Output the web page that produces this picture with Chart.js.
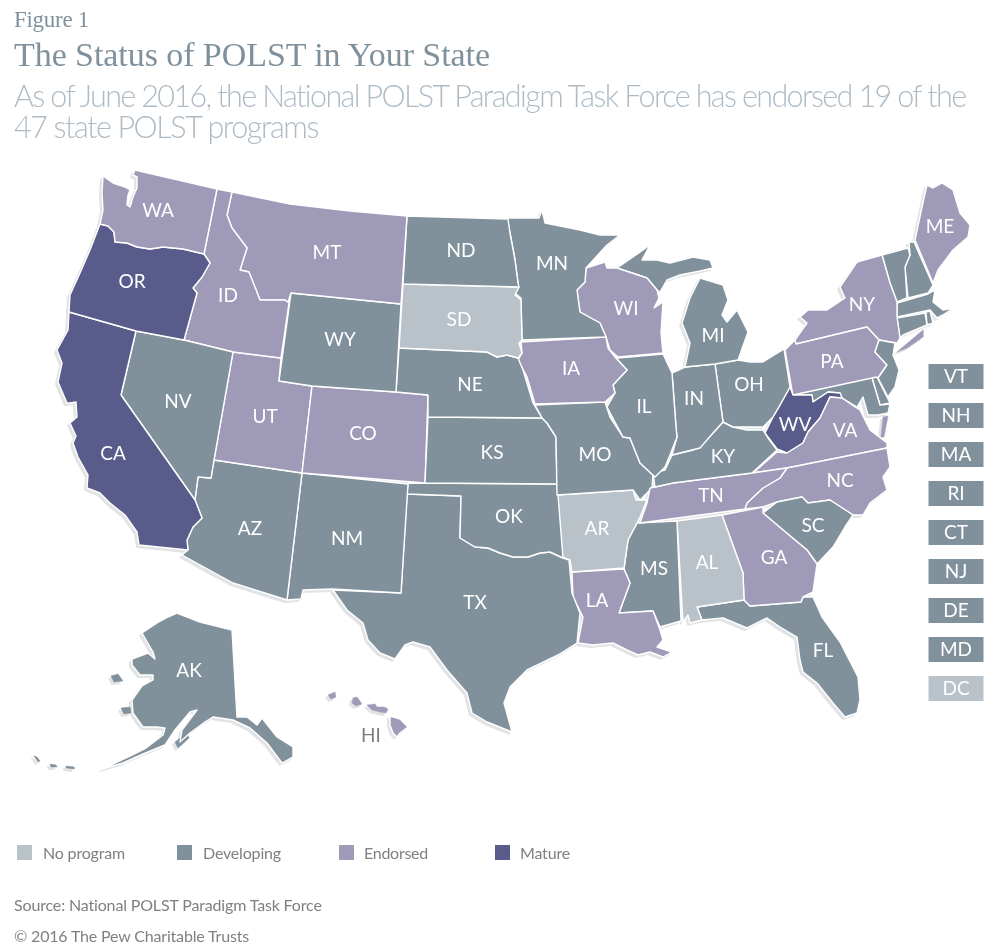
<!DOCTYPE html>
<html><head><meta charset="utf-8">
<style>
html,body{margin:0;padding:0;background:#fff;width:990px;height:952px;overflow:hidden}
#wrap{position:relative;width:990px;height:952px}
canvas{position:absolute;left:0;top:0}
.t{position:absolute;white-space:nowrap;line-height:1}
.sw{position:absolute;width:15px;height:15px}
</style>
<script src="https://cdn.jsdelivr.net/npm/chart.js@4"></script>
</head><body><div id="wrap"><canvas id="c" width="990" height="952"></canvas></div>
<script>
// ---------- categories ----------
const statusNames=["No program","Developing","Endorsed","Mature"];
const statusColors=["#b9c1c9","#80919c","#9f9ab8","#595b8a"];
// ---------- outlines (map plane units) ----------
const WA=[[103,176],[113,183],[125,187],[130,190],[128,195],[127,205],[130,207],[133,197],[137,188],[137,177],[133,175],[135,170],[217,189],[204,254],[183,249],[163,247],[150,249],[137,247],[127,243],[115,242],[114,232],[108,226],[100,224],[103,210],[102,193]];
const OR=[[100,224],[108,226],[114,232],[115,242],[127,243],[137,247],[150,249],[163,247],[183,249],[204,254],[210,263],[202,277],[193,288],[197,293],[184,340],[136,331],[69,312],[70,295],[80,273],[90,250]];
const CA=[[69,312],[136,331],[121,395],[195,500],[202,518],[193,527],[187,540],[188,550],[139,545],[137,532],[125,515],[110,503],[100,493],[87,488],[88,475],[78,457],[73,443],[76,436],[70,423],[77,417],[76,402],[70,403],[67,403],[58,382],[62,363],[57,350],[68,330]];
const NV=[[136,331],[184,340],[233,352],[214,460],[211,478],[198,477],[195,500],[121,395]];
const ID=[[217,189],[232,192],[227,215],[232,228],[247,248],[240,270],[249,272],[260,300],[285,300],[289,303],[281,358],[233,352],[184,340],[197,293],[193,288],[202,277],[210,263],[204,254]];
const MT=[[232,192],[290,204],[350,211],[407,216],[401,304],[291,293],[288,302],[285,300],[260,300],[249,272],[240,270],[247,248],[232,228],[227,215]];
const WY=[[291,293],[401,304],[396,392],[312,386],[279,381]];
const ND=[[407,216],[508,219],[510,233],[515,260],[518,283],[519,287],[403,284]];
const SD=[[403,284],[519,287],[515,295],[521,300],[522,340],[519,343],[522,353],[518,358],[507,355],[497,357],[487,352],[399,348]];
const NE=[[399,348],[487,352],[497,357],[507,355],[518,358],[523,370],[533,403],[542,418],[428,417],[428,395],[396,392]];
const MN=[[507,218],[539,218],[542,210],[545,223],[580,230],[600,235],[620,235],[607,245],[586,268],[585,282],[577,290],[580,312],[600,323],[606,337],[522,340],[521,298],[515,293],[518,283],[515,260],[510,233]];
const IA=[[521,342],[606,337],[608,348],[615,357],[627,370],[613,385],[615,393],[605,402],[535,404],[527,377],[518,360],[522,353]];
const WI=[[586,268],[605,262],[607,268],[617,268],[647,278],[657,290],[659,298],[654,308],[663,302],[661,333],[663,353],[618,357],[610,350],[606,337],[600,323],[580,312],[577,290],[585,282]];
const MIU=[[617,268],[633,257],[643,250],[650,245],[642,260],[657,260],[670,263],[693,257],[710,260],[713,268],[700,271],[680,275],[667,280],[660,292],[657,290],[647,278]];
const MIL=[[700,278],[723,285],[728,300],[722,315],[727,322],[737,310],[748,332],[738,360],[715,364],[685,367],[690,343],[682,323],[690,298]];
const IL=[[618,358],[663,354],[672,373],[676,427],[677,437],[670,455],[665,467],[655,477],[640,463],[630,438],[623,437],[607,407],[615,393],[613,385],[627,370],[615,357]];
const IN=[[672,373],[685,367],[715,364],[723,422],[713,433],[700,448],[672,455],[677,437],[676,427]];
const OH=[[715,364],[738,360],[750,362],[763,362],[784,349],[790,387],[780,405],[773,417],[763,427],[753,427],[733,427],[723,422]];
const KY=[[723,422],[733,427],[747,430],[763,430],[768,438],[777,450],[752,473],[673,483],[655,487],[653,473],[665,470],[672,455],[693,450],[713,433]];
const TN=[[650,488],[673,483],[752,473],[787,468],[780,478],[763,488],[747,503],[745,509],[640,523],[647,503]];
const MO=[[535,405],[605,402],[610,417],[623,437],[630,438],[640,463],[655,477],[653,473],[652,488],[640,500],[633,490],[557,495],[556,437],[547,423],[542,418]];
const KS=[[428,417],[542,418],[547,423],[556,437],[557,484],[425,483]];
const CO=[[312,386],[396,392],[428,395],[425,483],[302,473]];
const UT=[[233,352],[281,358],[279,381],[312,386],[302,473],[214,460]];
const AZ=[[214,460],[302,473],[287,600],[233,583],[182,555],[188,550],[187,540],[193,527],[202,518],[195,500],[198,477],[211,478]];
const NM=[[302,473],[408,484],[401,593],[333,589],[303,590],[301,599],[287,600]];
const OK=[[408,483],[557,484],[558,495],[563,558],[550,552],[540,553],[528,557],[513,557],[500,553],[488,548],[475,547],[460,538],[461,496],[407,494]];
const TX=[[407,494],[461,496],[460,538],[475,547],[488,548],[500,553],[513,557],[528,557],[540,553],[550,552],[563,558],[569,560],[572,593],[580,613],[577,643],[558,655],[527,670],[510,687],[504,703],[512,732],[487,722],[472,713],[467,693],[447,670],[430,647],[413,642],[405,645],[395,659],[380,653],[368,640],[363,623],[347,610],[333,590],[401,593]];
const AR=[[557,495],[633,490],[636,500],[647,500],[640,517],[637,523],[628,540],[624,568],[572,572],[570,560],[562,557]];
const LA=[[572,572],[624,569],[630,583],[619,613],[653,611],[660,630],[663,640],[657,647],[672,652],[663,657],[650,652],[638,655],[627,650],[613,643],[593,645],[578,643],[583,617],[573,597]];
const MS=[[637,523],[677,521],[681,621],[660,627],[653,611],[619,613],[630,583],[624,569],[628,540]];
const AL=[[677,521],[722,515],[743,573],[744,600],[697,607],[702,620],[690,623],[688,615],[683,622]];
const GA=[[722,515],[763,507],[763,513],[783,530],[807,550],[817,564],[813,592],[803,597],[801,602],[750,606],[744,600],[743,573]];
const SC=[[763,513],[777,502],[802,497],[808,503],[830,500],[853,515],[845,527],[833,547],[817,564],[807,550],[783,530]];
const FL=[[697,607],[744,600],[750,606],[801,602],[803,597],[813,597],[822,617],[840,642],[858,677],[860,700],[857,713],[845,717],[833,703],[817,683],[803,672],[800,660],[797,637],[780,627],[767,618],[747,628],[723,618],[702,620]];
const NC=[[745,509],[747,503],[763,488],[780,478],[787,468],[887,448],[890,467],[883,477],[887,490],[870,503],[863,515],[853,515],[830,500],[808,503],[802,497],[777,502],[763,507]];
const VA=[[753,473],[777,452],[787,453],[803,443],[808,432],[820,418],[830,397],[842,398],[855,407],[860,410],[870,430],[887,443],[887,448],[787,468]];
const VAE=[[883,417],[888,416],[884,437],[881,437]];
const WV=[[790,387],[793,395],[812,395],[813,402],[828,392],[840,393],[842,398],[830,397],[820,418],[808,432],[803,443],[787,453],[777,449],[765,433],[773,417],[780,405]];
const MD=[[793,395],[872,378],[880,405],[890,404],[888,413],[878,415],[868,415],[863,397],[857,407],[842,398],[840,393],[828,392],[813,402],[812,395]];
const DE=[[872,378],[877,377],[890,403],[880,405]];
const NJ=[[879,340],[895,343],[893,355],[899,370],[895,387],[888,397],[878,378],[887,365],[875,352]];
const PA=[[785,350],[795,340],[796,344],[867,327],[879,340],[875,352],[887,365],[878,378],[793,396]];
const NY=[[796,344],[795,340],[807,323],[800,317],[808,310],[827,310],[845,298],[840,287],[857,262],[882,255],[890,283],[897,302],[897,317],[900,338],[897,343],[879,340],[867,327]];
const NYL=[[897,352],[923,330],[923,337],[907,348]];
const VT=[[882,255],[908,248],[910,255],[905,267],[907,298],[897,302],[890,283]];
const NH=[[909,242],[914,242],[933,285],[928,293],[908,298],[905,267],[910,255]];
const ME=[[915,240],[922,207],[927,185],[933,188],[942,183],[953,190],[960,213],[970,225],[968,237],[953,250],[938,270],[933,283]];
const MA=[[897,303],[928,294],[935,290],[933,302],[943,310],[953,308],[943,315],[937,318],[930,310],[897,317]];
const CT=[[897,318],[925,313],[927,325],[903,335],[900,338]];
const RI=[[926,312],[930,311],[933,323],[927,325]];
const AK=[[177,613],[182,615],[200,622],[220,627],[232,630],[237,717],[247,717],[257,725],[262,718],[277,737],[293,747],[293,757],[282,763],[267,743],[250,728],[233,720],[213,717],[205,722],[190,733],[180,742],[182,730],[197,710],[190,712],[175,730],[165,745],[143,754],[123,763],[102,769],[130,756],[146,748],[163,735],[165,728],[157,727],[143,727],[133,713],[132,700],[142,686],[153,680],[153,675],[140,675],[132,665],[132,659],[148,653],[155,659],[153,652],[142,633],[157,623],[168,617]];
const AK2=[[111,676],[118,674],[123,681],[114,682]];
const AK3=[[121,708],[130,707],[131,713],[124,714]];
const AK4=[[175,742],[187,733],[189,738],[178,748]];
const AK5=[[50,764],[56,765],[57,767],[51,767]];
const AK6=[[66,766],[74,767],[74,769],[66,768]];
const AK7=[[34,756],[37,757],[40,761],[38,762]];
const HI1=[[390,716],[400,719],[408,727],[400,733],[397,737],[393,733],[390,725]];
const HI2=[[367,705],[375,704],[377,707],[384,707],[388,709],[386,713],[380,712],[372,710]];
const HI3=[[353,698],[357,697],[362,704],[356,706],[352,703]];
const HI4=[[328,695],[335,692],[336,697],[331,699]];
// ---------- states: code, status index, outlines, label position ----------
const stateCodes=["WA","OR","CA","NV","ID","MT","WY","ND","SD","NE","MN","IA","WI","MI","IL","IN","OH","KY","TN","MO","KS","CO","UT","AZ","NM","OK","TX","AR","LA","MS","AL","GA","SC","FL","NC","VA","WV","MD","DE","NJ","PA","NY","VT","NH","ME","MA","CT","RI","AK","HI"];
const stateStatus=[2,3,3,1,2,2,1,1,0,1,1,2,2,1,1,1,1,1,2,1,1,2,2,1,1,1,1,0,2,1,0,2,1,1,2,2,3,1,1,1,2,2,1,1,2,1,1,1,1,2];
const stateOutlines=[[WA],[OR],[CA],[NV],[ID],[MT],[WY],[ND],[SD],[NE],[MN],[IA],[WI],[MIU,MIL],[IL],[IN],[OH],[KY],[TN],[MO],[KS],[CO],[UT],[AZ],[NM],[OK],[TX],[AR],[LA],[MS],[AL],[GA],[SC],[FL],[NC],[VA,VAE],[WV],[MD],[DE],[NJ],[PA],[NY,NYL],[VT],[NH],[ME],[MA],[CT],[RI],[AK,AK2,AK3,AK4,AK5,AK6,AK7],[HI1,HI2,HI3,HI4]];
const labelCodes=["WA","OR","CA","ID","NV","MT","WY","UT","CO","AZ","NM","ND","SD","NE","KS","OK","TX","MN","IA","MO","AR","LA","WI","IL","MS","AL","MI","IN","OH","KY","TN","GA","FL","SC","NC","VA","WV","PA","NY","ME","AK","HI"];
const labelX=[158,132,113,228,178,327,340,265,363,250,347,461,459,470,492,509,475,552,571,595,597,597,626,644,654,707,713,694,749,723,711,774,823,813,840,845,795,832,862,940,189,371];
const labelY=[211,282,454,296,402,253,340,417,434,529,539,251,320,385,453,517,603,264,369,455,529,601,309,407,569,563,336,399,385,457,496,558,651,526,481,431,425,362,305,227,671,736];
// ---------- small-state key ----------
const keyCodes=["VT","NH","MA","RI","CT","NJ","DE","MD","DC"];
const keyStatus=[1,1,1,1,1,1,1,1,0];
const keyRows=[376.5,415.5,454.5,493.5,532.5,571.5,610.5,649.5,688.5];
const keyColumn=956;
// ---------- text ----------
const figureLabel="Figure 1";
const titleText="The Status of POLST in Your State";
const subtitleLines=["As of June 2016, the National POLST Paradigm Task Force has endorsed 19 of the","47 state POLST programs"];
const sourceText="Source: National POLST Paradigm Task Force";
const copyrightText="© 2016 The Pew Charitable Trusts";

const pts=a=>a.map(p=>({x:p[0],y:p[1]}));
const closed=a=>{const r=pts(a);r.push(r[0]);return r;};
const base={showLine:true,pointRadius:0,pointHoverRadius:0,tension:0,fill:'shape',borderJoinStyle:'round'};
const stateSets=[],shadowSets=[];
stateCodes.forEach((code,i)=>{
  stateOutlines[i].forEach((o,j)=>{
    const col=statusColors[stateStatus[i]];
    const minor=j>0&&o.length<=8;
    stateSets.push({...base,label:code,data:closed(o),backgroundColor:col,borderColor:minor?col:'#ffffff',borderWidth:minor?0.5:1.4});
    shadowSets.push({...base,label:code+' shadow',data:closed(o.map(p=>[p[0]-2.5,p[1]+2.5])),backgroundColor:'#e2e3e5',borderColor:'#e2e3e5',borderWidth:1});
  });
});
const keySets=keyCodes.map((code,i)=>{
  const y=keyRows[i],hw=27.5,hh=12.5,c=statusColors[keyStatus[i]];
  return {...base,label:code,data:closed([[keyColumn-hw,y-hh],[keyColumn+hw,y-hh],[keyColumn+hw,y+hh],[keyColumn-hw,y+hh]]),backgroundColor:c,borderColor:c,borderWidth:0};
});
const labelFont='19px Lato, "Open Sans", sans-serif';
const labelsPlugin={id:'stateLabels',afterDatasetsDraw(chart){
  const {ctx,scales:{x,y}}=chart;ctx.save();
  ctx.font=labelFont;ctx.textAlign='center';ctx.textBaseline='middle';
  labelCodes.forEach((c,i)=>{ctx.fillStyle=c==='HI'?'#7d7d7d':'#ffffff';ctx.fillText(c,x.getPixelForValue(labelX[i]),y.getPixelForValue(labelY[i]));});
  keyCodes.forEach((c,i)=>{ctx.fillStyle='#ffffff';ctx.fillText(c,x.getPixelForValue(keyColumn),y.getPixelForValue(keyRows[i]));});
  ctx.restore();
}};
new Chart(document.getElementById('c'),{type:'scatter',
  data:{datasets:[...stateSets,...keySets,...shadowSets]},
  plugins:[labelsPlugin],
  options:{responsive:false,animation:false,events:[],layout:{padding:0},
    plugins:{legend:{display:false},tooltip:{enabled:false},title:{display:false}},
    scales:{x:{type:'linear',min:0,max:990,display:false},y:{type:'linear',min:0,max:952,reverse:true,display:false}}}});

const wrap=document.getElementById('wrap');
function addText(s,x,base,css,width){
  const e=document.createElement('div');e.className='t';e.textContent=s;e.style.cssText=css;e.style.left=x+'px';wrap.appendChild(e);
  const size=parseFloat(e.style.fontSize);
  e.style.top=(base-size*0.8)+'px';
  if(width){const w=e.getBoundingClientRect().width;e.style.letterSpacing=((width-w)/s.length)+'px';}
  return e;
}
addText(figureLabel,14,26,'font-family:"Liberation Serif",serif;font-size:23px;color:#80919c',75);
addText(titleText,14,65,'font-family:"Liberation Serif",serif;font-size:34px;color:#80919c',476);
addText(subtitleLines[0],14,104,'font-family:Lato,sans-serif;font-weight:300;font-size:30.5px;color:#aebbc5',952);
addText(subtitleLines[1],14,135,'font-family:Lato,sans-serif;font-weight:300;font-size:30.5px;color:#aebbc5',304);
const legendSwatchX=[17,177,339,495],legendTextX=[43,203,364,520],legendWidths=[82,78,64,50];
statusNames.forEach((n,i)=>{
  const s=document.createElement('div');s.className='sw';s.style.left=legendSwatchX[i]+'px';s.style.top='845px';s.style.background=statusColors[i];wrap.appendChild(s);
  addText(n,legendTextX[i],858,'font-family:Lato,sans-serif;font-size:16px;color:#808080',legendWidths[i]);
});
addText(sourceText,14,910,'font-family:Lato,sans-serif;font-size:16px;color:#808080',308);
addText(copyrightText,14,941,'font-family:Lato,sans-serif;font-size:16px;color:#808080',235);
</script></body></html>
